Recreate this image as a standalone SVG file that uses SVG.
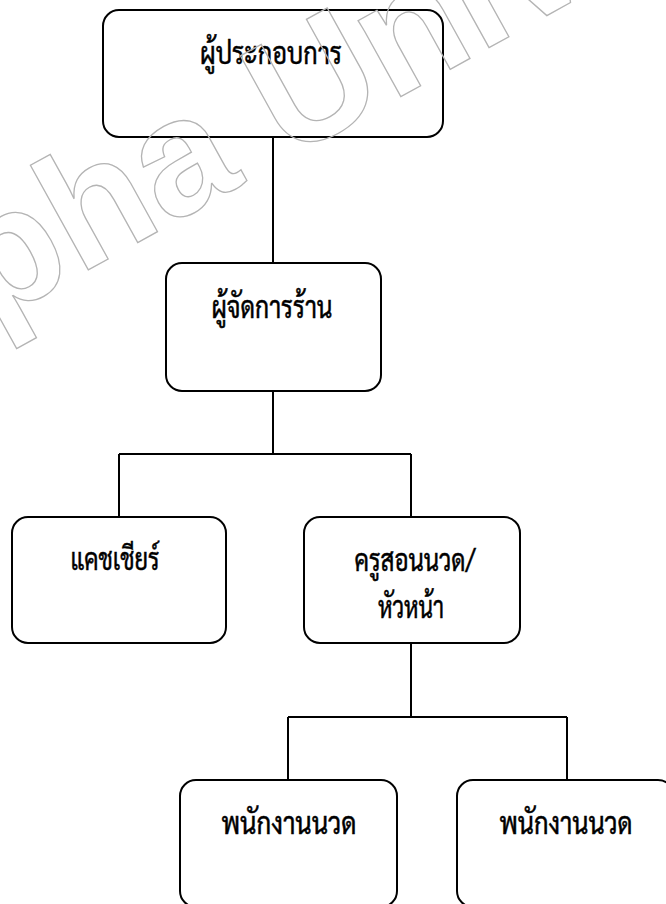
<svg xmlns="http://www.w3.org/2000/svg" width="666" height="904" viewBox="0 0 666 904">
<style>
.box{fill:none;stroke:#000;stroke-width:2}
.conn{fill:none;stroke:#000;stroke-width:2}
.lbl{font-family:"Angsana New","TH Sarabun New","Sarabun","Norasi","Kinnari","Noto Serif Thai","Noto Sans Thai Looped","Noto Sans Thai","DejaVu Sans",sans-serif;font-size:31px;font-weight:normal;fill:#000;text-anchor:middle;stroke:#000;stroke-width:0.5}
.wm{font-family:"Liberation Sans",Arial,sans-serif;font-weight:bold;font-size:165px;fill:none;stroke:#b4b4b4;stroke-width:1.3}
</style>
<rect width="666" height="904" fill="#fff"/>
<g id="connectors">
<path class="conn" d="M273 137V263"/>
<path class="conn" d="M273 391V454M119 454H411M119 454V517M411 454V517"/>
<path class="conn" d="M411 643V717M288 717H567M288 717V780M567 717V780"/>
</g>
<g id="n1"><rect class="box" x="103" y="10" width="340" height="127" rx="16"/><text class="lbl" x="271" y="64" textLength="142" lengthAdjust="spacingAndGlyphs">ผู้ประกอบการ</text></g>
<g id="n2"><rect class="box" x="166" y="263" width="215" height="128" rx="16"/><text class="lbl" x="272" y="318" textLength="121" lengthAdjust="spacingAndGlyphs">ผู้จัดการร้าน</text></g>
<g id="n3"><rect class="box" x="12" y="517" width="214" height="126" rx="16"/><text class="lbl" x="115" y="570" textLength="89" lengthAdjust="spacingAndGlyphs">แคชเชียร์</text></g>
<g id="n4"><rect class="box" x="304" y="517" width="216" height="126" rx="16"/><text class="lbl" x="415" y="571" textLength="121" lengthAdjust="spacingAndGlyphs">ครูสอนนวด/</text><text class="lbl" x="411" y="618" textLength="66" lengthAdjust="spacingAndGlyphs">หัวหน้า</text></g>
<g id="n5"><rect class="box" x="180" y="780" width="217" height="127" rx="16"/><text class="lbl" x="289" y="834" textLength="135" lengthAdjust="spacingAndGlyphs">พนักงานนวด</text></g>
<g id="n6"><rect class="box" x="457" y="780" width="217" height="127" rx="16"/><text class="lbl" x="566" y="834" textLength="133" lengthAdjust="spacingAndGlyphs">พนักงานนวด</text></g>
<text class="wm" transform="translate(88,270) rotate(-29)" x="-488" y="0">Burapha University</text>
</svg>
